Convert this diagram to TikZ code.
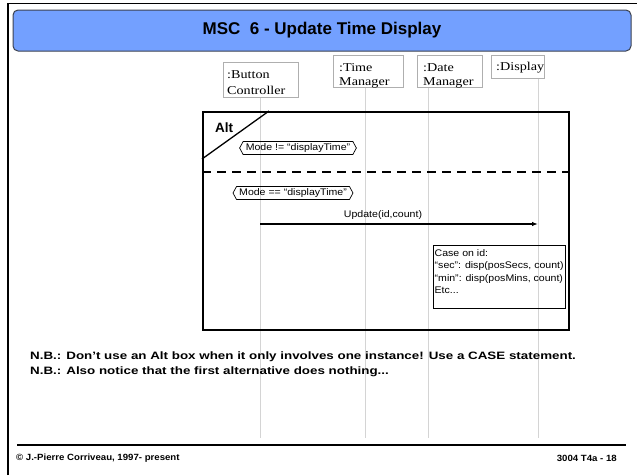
\documentclass[tikz,border=0pt]{standalone}
\usepackage{fontspec}
\setmainfont{Liberation Sans}
\newfontfamily\hdrfont[FakeStretch=1.18]{Liberation Serif}
\newfontfamily\nbfont[FakeStretch=1.25]{Liberation Sans}
\newfontfamily\footfont[FakeStretch=1.07]{Liberation Sans}
\newfontfamily\smallfont[FakeStretch=1.1]{Liberation Sans}
\usetikzlibrary{arrows.meta}
\definecolor{titlefill}{RGB}{115,160,255}
\definecolor{titleedge}{RGB}{60,66,80}
\definecolor{lifegray}{RGB}{212,212,212}
\definecolor{boxgray}{RGB}{175,175,175}
\tikzset{
  life/.style={draw=lifegray, line width=0.9pt},
  hdrbox/.style={draw=boxgray, line width=0.8pt, anchor=north west, inner sep=0pt},
  hdrtext/.style={anchor=west, inner sep=0pt, font=\hdrfont\fontsize{12}{14}\selectfont},
  small/.style={font=\smallfont\fontsize{9.6}{12.5}\selectfont},
  hexlbl/.style={small, inner xsep=2.5pt, inner ysep=1.5pt, text height=7.5pt, text depth=2pt},
  hexline/.style={draw=black, line width=0.7pt},
  note/.style={anchor=west, inner sep=0pt, font=\nbfont\bfseries\fontsize{10.7}{13}\selectfont},
  foot/.style={inner sep=0pt, font=\footfont\bfseries\fontsize{9}{11}\selectfont},
}
\begin{document}
\begin{tikzpicture}[x=1pt,y=-1pt]
\useasboundingbox (0,0) rectangle (637,475);
\fill[white] (0,0) rectangle (637,475);
% outer frame
\draw[line width=1.7pt] (8,475) -- (8,3.5) -- (637,3.5);
% title bar
\node[draw=titleedge, fill=titlefill, line width=1pt, rounded corners=5pt,
      minimum width=618pt, minimum height=41pt, inner sep=0pt,
      font=\bfseries\fontsize{17}{20}\selectfont] (title) at (322,30.5) {MSC\ \ 6 - Update Time Display};
% header boxes
\node[hdrbox, minimum width=75pt, minimum height=35pt] (bc) at (223,62) {};
\node[hdrbox, minimum width=70pt, minimum height=32pt] (tm) at (333,55) {};
\node[hdrbox, minimum width=65pt, minimum height=32pt] (dm) at (417,55) {};
\node[hdrbox, minimum width=53pt, minimum height=23pt] (dp) at (491,55) {};
\node[hdrtext] (bct1) at (227,74.5) {:Button};
\node[hdrtext] (bct2) at (227,90) {Controller};
\node[hdrtext] (tmt1) at (339,67.5) {:Time};
\node[hdrtext] (tmt2) at (339,83) {Manager};
\node[hdrtext] (dmt1) at (423,67.5) {:Date};
\node[hdrtext] (dmt2) at (423,83) {Manager};
\node[hdrtext] (dpt1) at (496,67.5) {:Display};
% lifelines
\coordinate (bcEnd) at (260,438);
\coordinate (tmEnd) at (365,438);
\coordinate (dmEnd) at (428,438);
\coordinate (dpEnd) at (538,438);
\draw[life] (bc.south -| bcEnd) -- (bcEnd);
\draw[life] (tm.south -| tmEnd) -- (tmEnd);
\draw[life] (dm.south -| dmEnd) -- (dmEnd);
\draw[life] (dp.south -| dpEnd) -- (dpEnd);
% alt frame
\node[draw=black, line width=2.4pt, anchor=north west, inner sep=0pt,
      minimum width=366pt, minimum height=218pt] (alt) at (202,111) {};
\coordinate (diagA) at (202,159);
\coordinate (diagB) at (269,111);
\draw[line width=1.3pt] (diagA) -- (diagB);
\node[inner sep=0pt, font=\bfseries\fontsize{13.5}{15}\selectfont] (altlbl) at (224,127.5) {Alt};
\coordinate (dashA) at (202,172);
\coordinate (dashB) at (568,172);
\draw[line width=1.5pt, dash pattern=on 9pt off 6pt] (dashA) -- (dashB);
% conditions
\node[hexlbl] (c1) at (298,148) {Mode != “displayTime”};
\draw[hexline] ([xshift=-3.5pt]c1.west) -- (c1.north west) -- (c1.north east) -- ([xshift=3.5pt]c1.east) -- (c1.south east) -- (c1.south west) -- cycle;
\node[hexlbl] (c2) at (293,193) {Mode == “displayTime”};
\draw[hexline] ([xshift=-3.5pt]c2.west) -- (c2.north west) -- (c2.north east) -- ([xshift=3.5pt]c2.east) -- (c2.south east) -- (c2.south west) -- cycle;
% message
\coordinate (msgA) at (260,224);
\coordinate (msgB) at (538,224);
\draw[line width=1.2pt, -{Latex[length=6pt,width=4.5pt]}] (msgA) -- (msgB);
\node[small, inner sep=0pt] (msglbl) at (383,215) {Update(id,count)};
% case box
\node[draw=black, line width=0.8pt, anchor=north west, inner sep=0pt,
      minimum width=132pt, minimum height=63pt] (casebox) at (433,245) {};
\node[small, anchor=north west, inner sep=0pt, align=left] (casetxt) at (434.5,249)
  {Case on id:\\“sec”: disp(posSecs, count)\\“min”: disp(posMins, count)\\Etc...};
% notes
\node[note] (nb1) at (30,357) {N.B.: Don’t use an Alt box when it only involves one instance! Use a CASE statement.};
\node[note] (nb2) at (30,372) {N.B.: Also notice that the first alternative does nothing...};
% footer
\coordinate (fA) at (17,445);
\coordinate (fB) at (626,445);
\draw[line width=1.1pt] (fA) -- (fB);
\node[foot, anchor=west] (copy) at (16,458) {© J.-Pierre Corriveau, 1997- present};
\node[foot, anchor=east] (pg) at (617,458) {3004 T4a - 18};
\end{tikzpicture}
\end{document}
